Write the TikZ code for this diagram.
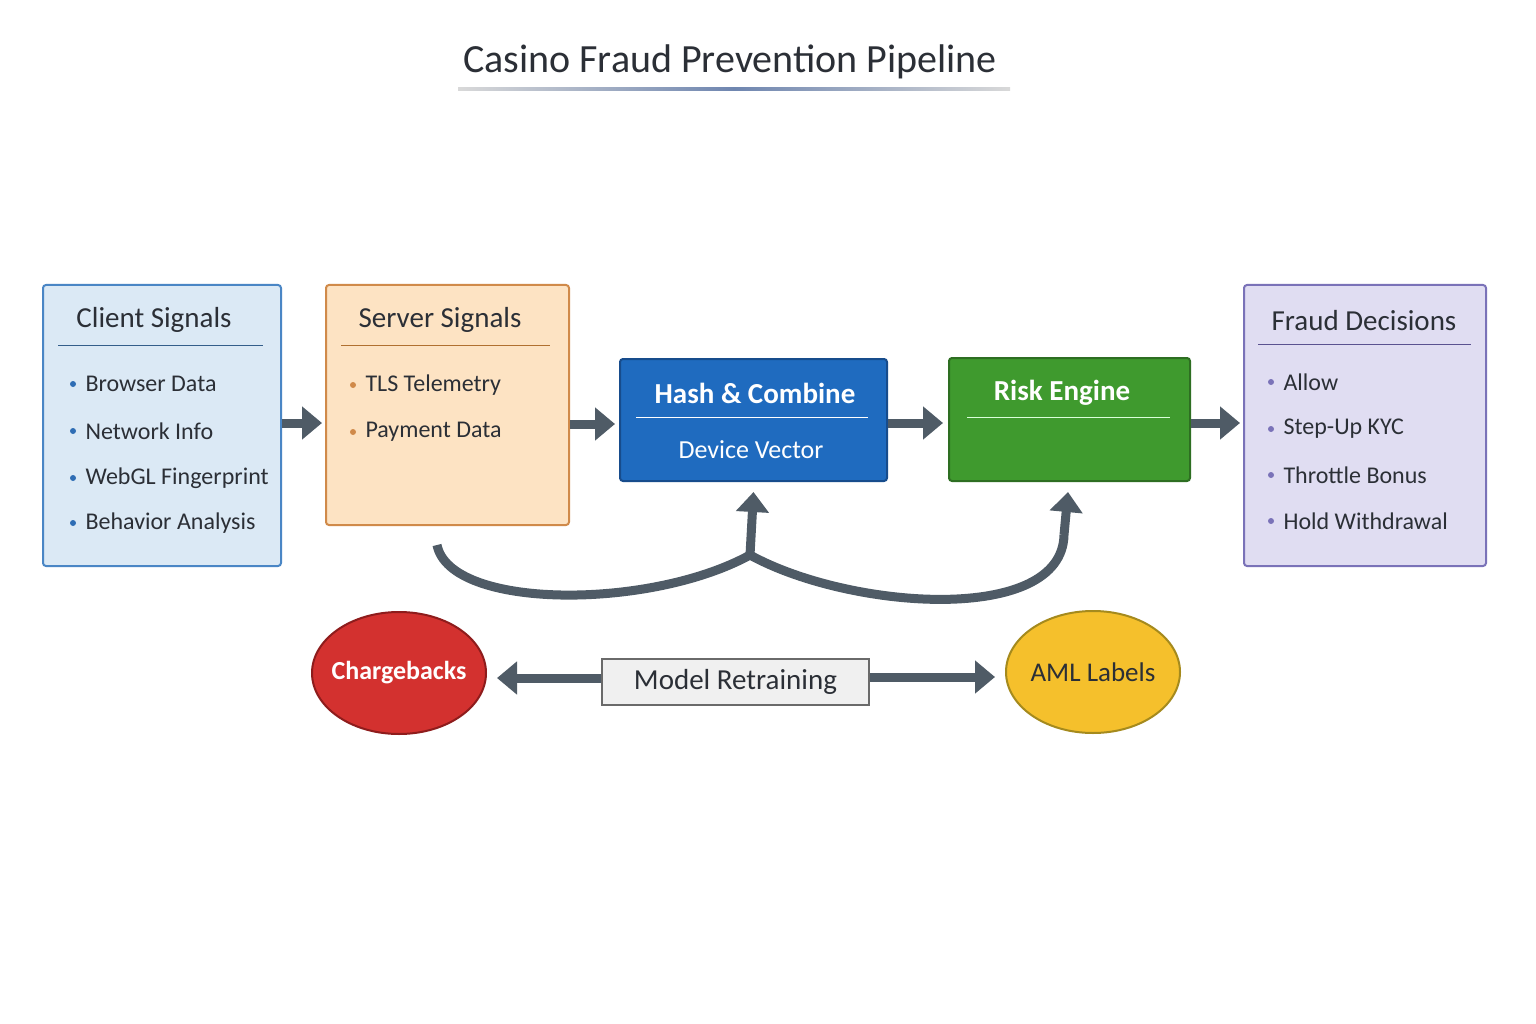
\documentclass[tikz,border=0pt]{standalone}
\usepackage{fontspec}
\setmainfont{Carlito}
\usetikzlibrary{arrows.meta,shapes.geometric}
\definecolor{arr}{HTML}{4F5B66}
\definecolor{txt}{HTML}{2B2F36}
\definecolor{csd}{HTML}{4A86C5}\definecolor{csf}{HTML}{DBE9F5}\definecolor{csb}{HTML}{2E6DB4}
\definecolor{ssd}{HTML}{D08A4A}\definecolor{ssf}{HTML}{FDE3C3}\definecolor{ssl}{HTML}{B07030}
\definecolor{hcd}{HTML}{174C8C}\definecolor{hcf}{HTML}{1F6BBF}
\definecolor{red}{HTML}{2E6E22}\definecolor{ref}{HTML}{3F9A2E}
\definecolor{fdd}{HTML}{7A72B8}\definecolor{fdf}{HTML}{E0DDF2}\definecolor{fdl}{HTML}{5A5290}
\definecolor{cbd}{HTML}{8E1C1C}\definecolor{cbf}{HTML}{D3312F}
\definecolor{amd}{HTML}{A58A1D}\definecolor{amf}{HTML}{F5C02C}
\definecolor{mrd}{HTML}{6A6A6A}\definecolor{mrf}{HTML}{F0F0F0}
\definecolor{tl}{HTML}{6F86B0}
\tikzset{
  panel/.style={draw, line width=2pt, rounded corners=3pt, anchor=north west, inner sep=0pt},
  hdr/.style={font=\fontsize{29}{30}\selectfont, text=txt},
  itm/.style={font=\fontsize{24}{26}\selectfont, text=txt, anchor=west},
  bul/.style={circle, inner sep=0pt, minimum size=6pt},
  fat/.style={draw=arr, line width=9pt, -{Triangle[length=20pt,width=32pt]}},
  oval/.style={ellipse, line width=2pt, minimum width=174pt, minimum height=122pt, inner sep=0pt, outer sep=0pt},
}
\begin{document}
\begin{tikzpicture}[x=1pt,y=-1pt]
\useasboundingbox[fill=white] (0,0) rectangle (1536,1024);
% title
\node[font=\fontsize{40}{42}\selectfont, text=txt] (title) at (730,62) {Casino Fraud Prevention Pipeline};
\shade[left color=white!70!gray, right color=white!70!gray, middle color=tl] (458,88) rectangle (1010,90.5);
% client
\node[panel, draw=csd, fill=csf, minimum width=238pt, minimum height=281pt] (cs) at (42,284) {};
\node[hdr] (csh) at (154,320) {Client Signals};
\draw[csd!70!black, line width=1pt] (58,345) -- (263,345);
\foreach \t/\y [count=\i] in {Browser Data/384, Network Info/431, WebGL Fingerprint/478, Behavior Analysis/523}{
  \node[bul, fill=csb] (csb\i) at (73,\y) {};
  \node[itm] (cst\i) at (82,\y) {\t};
}
% server
\node[panel, draw=ssd, fill=ssf, minimum width=243pt, minimum height=240pt] (ss) at (325,284) {};
\node[hdr] (ssh) at (440,320) {Server Signals};
\draw[ssl, line width=1pt] (341,345) -- (550,345);
\foreach \t/\y [count=\i] in {TLS Telemetry/385, Payment Data/432}{
  \node[bul, fill=ssd] (ssb\i) at (353,\y) {};
  \node[itm] (sst\i) at (362,\y) {\t};
}
% hash
\node[panel, draw=hcd, fill=hcf, minimum width=267pt, minimum height=122pt] (hc) at (619,358) {};
\node[hdr, text=white, font=\bfseries\fontsize{29}{30}\selectfont] (hch) at (755,393) {Hash \& Combine};
\draw[white, line width=1pt] (636,417) -- (868,417);
\node[itm, text=white, anchor=center, font=\fontsize{26}{28}\selectfont] (hcv) at (751,450) {Device Vector};
% risk
\node[panel, draw=red, fill=ref, minimum width=241pt, minimum height=123pt] (re) at (948,357) {};
\node[hdr, text=white, font=\bfseries\fontsize{29}{30}\selectfont] (reh) at (1062,393) {Risk Engine};
\draw[white!85!green, line width=1pt] (967,417) -- (1170,417);
% fraud decisions
\node[panel, draw=fdd, fill=fdf, minimum width=242pt, minimum height=281pt] (fd) at (1243,284) {};
\node[hdr] (fdh) at (1364,321) {Fraud Decisions};
\draw[fdl, line width=1pt] (1258,344) -- (1471,344);
\foreach \t/\y [count=\i] in {Allow/382, Step-Up KYC/429, Throttle Bonus/475, Hold Withdrawal/521}{
  \node[bul, fill=fdd] (fdb\i) at (1271,\y) {};
  \node[itm] (fdt\i) at (1280,\y) {\t};
}
% flow arrows
\draw[fat] (cs.east |- 0,423) -- (322,423);
\draw[fat] (ss.east |- 0,424) -- (615,424);
\draw[fat] (hc.east |- 0,423) -- (943,423);
\draw[fat] (re.east |- 0,423) -- (1240,423);
% feedback curves
\coordinate (f0) at (437,545);
\coordinate (fm) at (750,555);
\coordinate (f2) at (1064,535);
\draw[arr, line width=9pt] (f0) .. controls (450,610) and (650,610) .. (fm);
\draw[arr, line width=9pt] (fm) .. controls (850,610) and (1062,625) .. (f2);
\draw[fat] (fm) -- (hc.south |- 0,492);
\draw[fat] (f2) -- (1068,492);
% bottom
\node[oval, draw=cbd, fill=cbf] (cb) at (399,673) {};
\node[font=\bfseries\fontsize{26}{28}\selectfont, text=white] (cbt) at (cb.center) {Chargebacks};
\node[oval, draw=amd, fill=amf] (aml) at (1093,672) {};
\node[font=\fontsize{27}{28}\selectfont, text=txt] (amlt) at (aml.center) {AML Labels};
\node[draw=mrd, line width=1.5pt, fill=mrf, minimum width=267pt, minimum height=46pt, inner sep=0pt,
  font=\fontsize{29}{30}\selectfont, text=txt] (mr) at (735.5,682) {Model Retraining};
\draw[fat] (mr.west |- 0,678) -- (497,678);
\draw[fat] (mr.east |- 0,677) -- (995,677);
\end{tikzpicture}
\end{document}
